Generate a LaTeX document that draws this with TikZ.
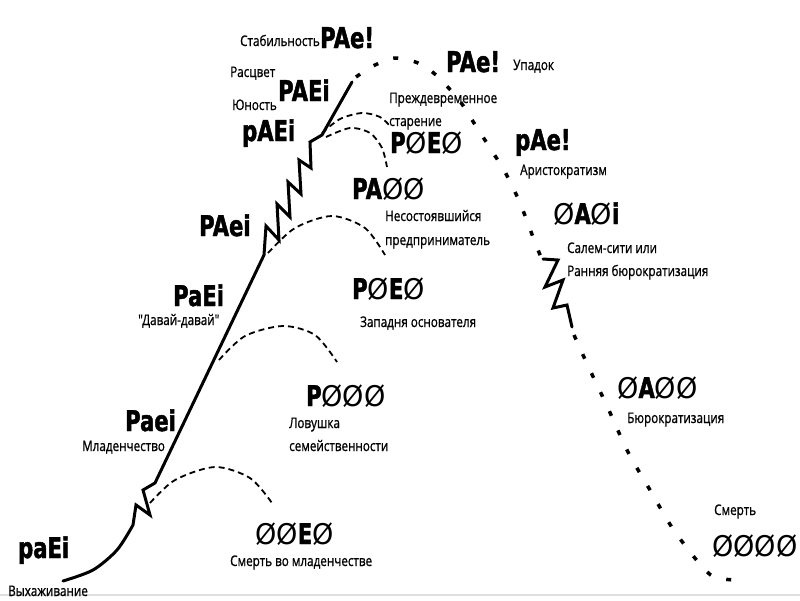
\documentclass[tikz,border=0pt]{standalone}
\usepackage{fontspec}
\setmainfont{Open Sans}[FakeStretch=0.8,FakeBold=0.9,Ligatures=TeXOff]
\newfontfamily\bigf{DejaVu Sans}[FakeStretch=0.74,FakeBold=1.6]
\newfontfamily\slimf{DejaVu Sans}[FakeStretch=0.95]
\newcommand\Zr{{\slimf\mdseries Ø}}
\tikzset{
  lbl/.style={anchor=base west, inner sep=0, font=\fontsize{14.6}{16}\selectfont},
  big/.style={anchor=base west, inner sep=0, font={\bigf\bfseries\fontsize{28.5}{30}\selectfont}},
  life/.style={line width=3pt, line join=miter, line cap=round},
  dots/.style={line width=3.5pt, dash pattern=on 5pt off 16pt},
  trap/.style={line width=1.8pt, dash pattern=on 6pt off 4pt}
}
\begin{document}
\begin{tikzpicture}[x=1pt,y=-1pt]
\useasboundingbox (0,0) rectangle (800,600);
\fill[white] (0,0) rectangle (800,600);
\draw[gray!25, line width=2pt] (0,595) -- (800,595);

% main life curve (solid)
\draw[life] plot[smooth] coordinates {(63,581) (93,570) (117,550) (133,525)}
  -- (136,505) -- (150,515) -- (143,490) -- (155,483) -- (264,255)
  -- (266,226) -- (279,240) -- (277,204) -- (290,217) -- (288,182) -- (301,194)
  -- (299,160) -- (311,168) -- (310,142) -- (322,135) -- (352,82);
% dotted decline
\draw[dots] plot[smooth] coordinates {(356,77) (373,66) (395,58) (418,63) (436,75) (459,100) (474,123) (490,148) (505,172) (520,203) (536,245) (541,257)};
\draw[life] (543,259) -- (558,260) -- (545,287) -- (563,280) -- (553,308) -- (567,305) -- (572,327);
\draw[dots] plot[smooth] coordinates {(574,335) (589,368) (607,406) (628,452) (650,490) (673,529) (699,563) (714,577) (735,580)};

% dashed traps
\draw[trap] plot[smooth] coordinates {(150,503) (175,480) (215,467) (250,478) (272,503)};
\draw[trap] plot[smooth] coordinates {(219,360) (245,336) (283,326) (315,335) (337,362)};
\draw[trap] plot[smooth] coordinates {(268,253) (295,228) (332,216) (365,228) (385,255)};
\draw[trap] plot[smooth] coordinates {(322,133) (340,119) (362,113) (380,117) (390,126)};
\draw[trap] plot[smooth] coordinates {(326,137) (350,128) (370,133) (382,148) (387,167)};

% small labels
\node[lbl] (l1) at (240,46) {Стабильность};
\node[lbl] (l2) at (230,77) {Расцвет};
\node[lbl] (l3) at (232,110) {Юность};
\node[lbl] (l4) at (513,70) {Упадок};
\node[lbl] (l5) at (389,103) {Преждевременное};
\node[lbl] (l6) at (389,126) {старение};
\node[lbl] (l7) at (520,175) {Аристократизм};
\node[lbl] (l8) at (385,221) {Несостоявшийся};
\node[lbl] (l9) at (385,245) {предприниматель};
\node[lbl] (l10) at (567,253) {Салем-сити или};
\node[lbl] (l11) at (567,276) {Ранняя бюрократизация};
\node[lbl] (l12) at (138,325) {"Давай-давай"};
\node[lbl] (l13) at (360,327) {Западня основателя};
\node[lbl] (l14) at (289,428) {Ловушка};
\node[lbl] (l15) at (289,451) {семейственности};
\node[lbl] (l16) at (82,451) {Младенчество};
\node[lbl] (l17) at (627,423) {Бюрократизация};
\node[lbl] (l18) at (714,515) {Смерть};
\node[lbl] (l19) at (230,566) {Смерть во младенчестве};
\node[lbl] (l20) at (8,596) {Выхаживание};

% code labels
\node[big] (c1) at (320,48) {PAe!};
\node[big] (c2) at (278,101) {PAEi};
\node[big] (c3) at (242,141) {pAEi};
\node[big] (c4) at (446,72) {PAe!};
\node[big] (c5) at (390,153) {P\Zr E\Zr};
\node[big] (c6) at (515,150) {pAe!};
\node[big] (c7) at (352,199) {PA\Zr\Zr};
\node[big] (c8) at (553,224) {\Zr A\Zr i};
\node[big] (c9) at (199,236) {PAei};
\node[big] (c10) at (173,306) {PaEi};
\node[big] (c11) at (352,299) {P\Zr E\Zr};
\node[big] (c12) at (306,406) {P\Zr\Zr\Zr};
\node[big] (c13) at (125,431) {Paei};
\node[big] (c14) at (617,398) {\Zr A\Zr\Zr};
\node[big] (c15) at (712,556) {\Zr\Zr\Zr\Zr};
\node[big] (c16) at (255,544) {\Zr\Zr E\Zr};
\node[big] (c17) at (18,558) {paEi};
\end{tikzpicture}
\end{document}
